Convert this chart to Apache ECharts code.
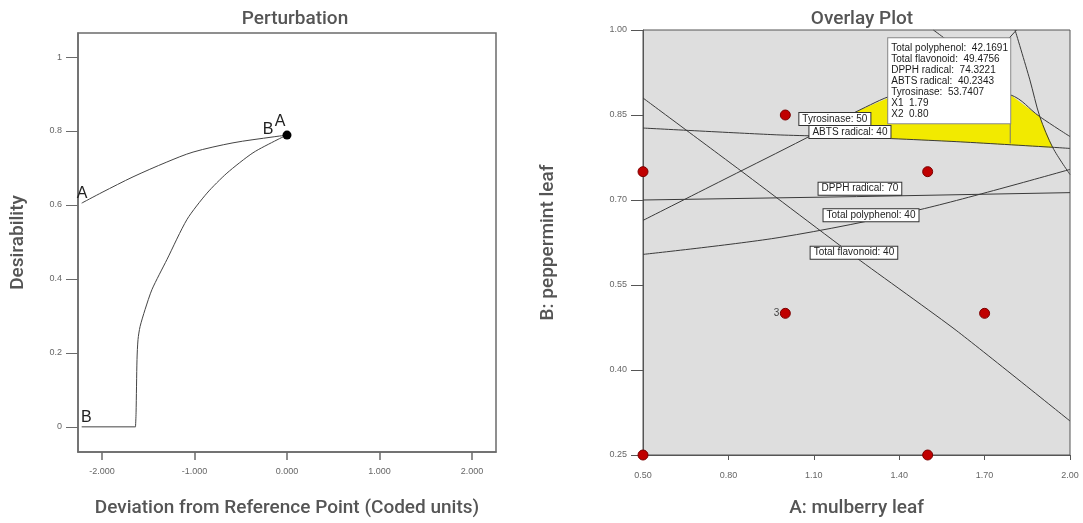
<!DOCTYPE html>
<html><head><meta charset="utf-8">
<script src="https://cdn.jsdelivr.net/npm/echarts@6.0.0/dist/echarts.min.js"></script>
<style>html,body{margin:0;padding:0;background:#fff}#c{width:1083px;height:523px}</style>
</head><body><div id="c"></div>
<script>
// ---------- Left chart: Perturbation ----------
const pertXTicks = [-2, -1, 0, 1, 2];
const pertYTicks = [0, 0.2, 0.4, 0.6, 0.8, 1];
const curveA = [[-2.22,0.605],[-2.0,0.634],[-1.665,0.676],[-1.3,0.716],[-1.016,0.743],[-0.584,0.768],[-0.151,0.784],[0,0.789]];
const curveB = [[-1.638,0],[-1.632,0.038],[-1.622,0.182],[-1.611,0.236],[-1.589,0.271],[-1.535,0.317],[-1.459,0.372],[-1.297,0.453],[-1.081,0.561],[-0.865,0.632],[-0.65,0.686],[-0.368,0.741],[-0.108,0.776],[0,0.789]];
const curveBFlat = [[-2.22,0],[-1.638,0]];
const referencePoint = [[0, 0.789]];
const curveLetters = [
  {name:'A', value:[-2.216,0.632]},
  {name:'B', value:[-2.17,0.024]},
  {name:'B', value:[-0.205,0.803]},
  {name:'A', value:[-0.076,0.826]}
];

// ---------- Right chart: Overlay Plot ----------
const overlayXTicks = [0.5, 0.8, 1.1, 1.4, 1.7, 2.0];
const overlayYTicks = [0.25, 0.40, 0.55, 0.70, 0.85, 1.00];
const designPoints = [[1.0,0.85],[0.5,0.75],[1.5,0.75],[1.0,0.5],[1.7,0.5],[0.5,0.25],[1.5,0.25]];
const replicateLabel = [{name:'3', value:[1.0,0.5]}];
const flavonoidLine = [[0.5,0.880],[0.848,0.750],[1.25,0.598],[1.6,0.470],[2.0,0.310]];
const polyphenolLine = [[0.5,0.604],[0.981,0.634],[1.473,0.683],[2.0,0.754]];
const dpphLine = [[0.5,0.700],[1.25,0.706],[2.0,0.713]];
const abtsLine = [[0.5,0.827],[0.97,0.815],[1.25,0.811],[1.6,0.803],[1.94,0.793],[2.0,0.791]];
const tyrosinaseLine = [[0.5,0.664],[0.788,0.737],[1.076,0.810],[1.262,0.859],[1.403,0.889],[1.578,0.905],[1.789,0.886],[1.894,0.847],[2.0,0.812]];
const steepLine = [[1.807,1.0],[1.859,0.912],[1.894,0.847],[1.940,0.792],[2.0,0.745]];
const topLine = [[1.52,1.0],[1.56,0.985],[1.62,0.96]];
const topLine2 = [[1.785,0.985],[1.812,1.0]];
const sweetSpot = [[1.087,0.812],[1.262,0.859],[1.403,0.889],[1.578,0.905],[1.789,0.886],[1.894,0.847],[1.940,0.792],[1.6,0.803],[1.25,0.811],[1.087,0.812]];
const contourLabels = [
  {name:'Tyrosinase: 50', value:[1.174,0.843]},
  {name:'ABTS radical: 40', value:[1.227,0.820]},
  {name:'DPPH radical: 70', value:[1.262,0.720]},
  {name:'Total polyphenol: 40', value:[1.301,0.673]},
  {name:'Total flavonoid: 40', value:[1.241,0.607]}
];
const flagPoint = [1.79, 0.80];
const flagLines = ['Total polyphenol:  42.1691','Total flavonoid:  49.4756','DPPH radical:  74.3221','ABTS radical:  40.2343','Tyrosinase:  53.7407','X1  1.79','X2  0.80'];
const flagStem = [[1.79,0.80],[1.79,0.835]];

const nameFont = {color:'#555', fontFamily:'Roboto', fontWeight:500, fontSize:19};
const tickFont = {color:'#666', fontFamily:'Liberation Sans', fontSize:9};

const chart = echarts.init(document.getElementById('c'), null, {renderer:'canvas'});

const lineStyleR = {color:'#3a3a3a', width:1};
function contour(data, smooth){
  return {type:'line', xAxisIndex:1, yAxisIndex:1, data:data, smooth:smooth, symbol:'none', lineStyle:lineStyleR, silent:true, z:3};
}

chart.setOption({
  animation:false,
  backgroundColor:'#fff',
  title:[
    {text:'Perturbation', left:290, top:5, textAlign:'center', textStyle:{color:'#555', fontFamily:'Roboto', fontWeight:500, fontSize:19}},
    {text:'Overlay Plot', left:857, top:5, textAlign:'center', textStyle:{color:'#555', fontFamily:'Roboto', fontWeight:500, fontSize:19}}
  ],
  grid:[
    {left:78, top:33, width:418, height:419, show:true, borderColor:'#6b6b6b', borderWidth:1.5, backgroundColor:'#fff'},
    {left:643, top:30, width:427, height:426, show:true, borderColor:'#555', borderWidth:1, backgroundColor:'#dedede'}
  ],
  xAxis:[
    {type:'value', gridIndex:0, min:-2.26, max:2.26,
     name:'Deviation from Reference Point (Coded units)', nameLocation:'middle', nameGap:47, nameTextStyle:nameFont,
     axisLine:{show:true, onZero:false, lineStyle:{color:'#6b6b6b', width:1.5}},
     axisTick:{show:true, inside:false, length:8, customValues:pertXTicks, lineStyle:{color:'#6b6b6b', width:1.5}},
     axisLabel:Object.assign({customValues:pertXTicks, margin:15, formatter:v=>v.toFixed(3)}, tickFont),
     splitLine:{show:false}},
    {type:'value', gridIndex:1, min:0.5, max:2.0,
     name:'A: mulberry leaf', nameLocation:'middle', nameGap:44, nameTextStyle:nameFont,
     axisLine:{show:true, onZero:false, lineStyle:{color:'#555', width:1}},
     axisTick:{show:true, inside:false, length:5, customValues:overlayXTicks, lineStyle:{color:'#555'}},
     axisLabel:Object.assign({customValues:overlayXTicks, margin:16, formatter:v=>v.toFixed(2)}, tickFont),
     splitLine:{show:false}}
  ],
  yAxis:[
    {type:'value', gridIndex:0, min:-0.068, max:1.065,
     name:'Desirability', nameLocation:'middle', nameGap:50, nameTextStyle:nameFont,
     axisLine:{show:true, onZero:false, lineStyle:{color:'#6b6b6b', width:1.5}},
     axisTick:{show:true, inside:false, length:12, customValues:pertYTicks, lineStyle:{color:'#6b6b6b', width:1}},
     axisLabel:Object.assign({customValues:pertYTicks, margin:16, formatter:v=>String(+v.toFixed(1))}, tickFont),
     splitLine:{show:false}},
    {type:'value', gridIndex:1, min:0.25, max:1.0,
     name:'B: peppermint leaf', nameLocation:'middle', nameGap:85, nameTextStyle:nameFont,
     axisLine:{show:true, onZero:false, lineStyle:{color:'#555', width:1}},
     axisTick:{show:true, inside:false, length:12, customValues:overlayYTicks, lineStyle:{color:'#555'}},
     axisLabel:Object.assign({customValues:overlayYTicks, margin:16, formatter:v=>v.toFixed(2)}, tickFont),
     splitLine:{show:false}}
  ],
  series:[
    // left
    {type:'line', xAxisIndex:0, yAxisIndex:0, data:curveA, smooth:0.3, symbol:'none', lineStyle:{color:'#444', width:1}},
    {type:'line', xAxisIndex:0, yAxisIndex:0, data:curveB, smooth:0.25, symbol:'none', lineStyle:{color:'#444', width:1}},
    {type:'line', xAxisIndex:0, yAxisIndex:0, data:curveBFlat, symbol:'none', lineStyle:{color:'#444', width:1}},
    {type:'scatter', xAxisIndex:0, yAxisIndex:0, data:referencePoint, symbolSize:9, itemStyle:{color:'#000', opacity:1}, z:5},
    {type:'scatter', xAxisIndex:0, yAxisIndex:0, data:curveLetters, symbolSize:0, z:6, itemStyle:{opacity:1},
     label:{show:true, position:'inside', formatter:p=>p.name, color:'#222', fontFamily:'Liberation Sans', fontSize:16}},
    // right
    {type:'custom', xAxisIndex:1, yAxisIndex:1, data:[0], z:2, silent:true,
     renderItem:function(params, api){
       return {type:'polygon', shape:{points:sweetSpot.map(p=>api.coord(p))}, style:{fill:'#f2ea00', stroke:'none'}};
     }},
    contour(flavonoidLine, 0.2),
    contour(polyphenolLine, 0.3),
    contour(dpphLine, 0),
    contour(abtsLine, 0.2),
    contour(tyrosinaseLine, 0.4),
    contour(steepLine, 0.3),
    contour(topLine, 0.3),
    contour(topLine2, 0),
    {type:'scatter', xAxisIndex:1, yAxisIndex:1, data:designPoints, symbolSize:10, z:6,
     itemStyle:{color:'#c00000', borderColor:'#7a0000', borderWidth:1, opacity:1}},
    {type:'scatter', xAxisIndex:1, yAxisIndex:1, data:replicateLabel, symbolSize:10, z:5, itemStyle:{color:'rgba(0,0,0,0)', opacity:1},
     label:{show:true, position:'left', distance:1, formatter:p=>p.name, color:'#444', fontFamily:'Liberation Sans', fontSize:10}},
    {type:'scatter', xAxisIndex:1, yAxisIndex:1, data:contourLabels, symbolSize:0, z:8, itemStyle:{opacity:1},
     label:{show:true, position:'inside', formatter:p=>p.name, color:'#222', fontFamily:'Liberation Sans', fontSize:10,
            backgroundColor:'#fff', borderColor:'#333', borderWidth:1, padding:[1,3,0,3], lineHeight:11}},
    {type:'line', xAxisIndex:1, yAxisIndex:1, data:flagStem, symbol:'none', lineStyle:{color:'#777', width:1}, z:8},
    {type:'scatter', xAxisIndex:1, yAxisIndex:1, data:[flagPoint], symbolSize:0, z:9, itemStyle:{opacity:1},
     label:{show:true, position:[-122,-105], align:'left', verticalAlign:'top', formatter:()=>flagLines.join('\n'),
            color:'#1a1a1a', fontFamily:'Liberation Sans', fontSize:10, lineHeight:11, width:117,
            backgroundColor:'#fff', borderColor:'#888', borderWidth:1, padding:[4,2,4,3]}}
  ]
});
</script></body></html>
